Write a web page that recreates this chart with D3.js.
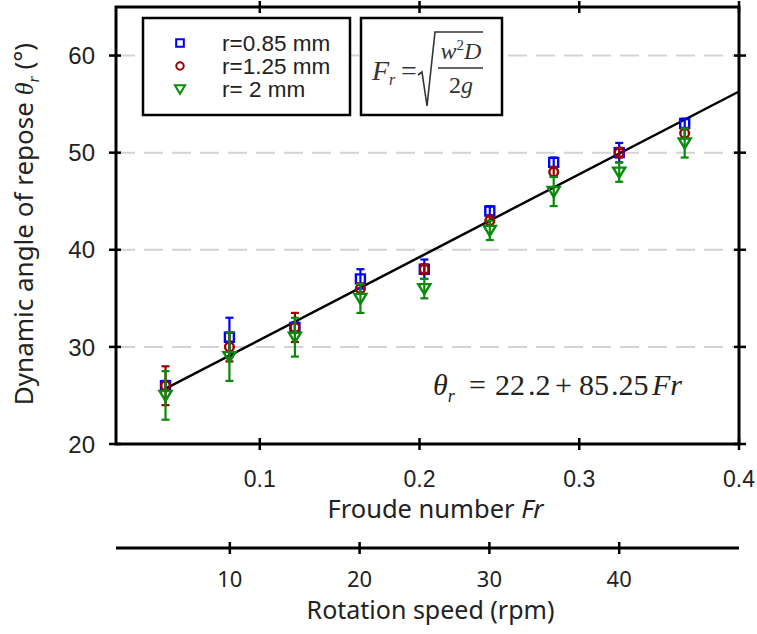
<!DOCTYPE html>
<html>
<head>
<meta charset="utf-8">
<script src="https://cdn.jsdelivr.net/npm/d3@7"></script>
<style>
  body { margin: 0; background: #fff; }
  svg { display: block; }
</style>
</head>
<body>
<svg width="757" height="634"></svg>
<script>
// ---------------- data ----------------
var rpm = [5, 10, 15, 20, 25, 30, 35, 40, 45];
var froude = [0.041, 0.081, 0.122, 0.163, 0.203, 0.244, 0.284, 0.325, 0.366];

var r085 = [26, 31, 32, 37, 38, 44, 49, 50, 53];
var r085Err = [0.5, 2, 0.5, 1, 1, 0.5, 0.5, 1, 0.5];
var r125 = [26, 30, 32, 36, 38, 43, 48, 50, 52];
var r125Err = [2, 1.5, 1.5, 0.5, 0.5, 0.5, 0.5, 0.5, 0.5];
var r2 = [25, 29, 31, 35, 36, 42, 46, 48, 51];
var r2Err = [2.5, 2.5, 2, 1.5, 1, 1, 1.5, 1, 1.5];

var seriesNames = ["r=0.85 mm", "r=1.25 mm", "r= 2 mm"];
var fitLine = [[0.041, 22.2 + 85.25 * 0.041], [0.4, 22.2 + 85.25 * 0.4]];

var yTicks = [20, 30, 40, 50, 60];
var frTicks = [0.1, 0.2, 0.3, 0.4];
var rpmTicks = [10, 20, 30, 40];

// ---------------- layout ----------------
var svg = d3.select("svg");
var margins = { top: 7, left: 116 };
var width = 623, height = 437;
var sans = "Liberation Sans, Arial, sans-serif";
var gothic = "Noto Sans, sans-serif";
var serif = "Liberation Serif, Times New Roman, serif";

var xScale = d3.scaleLinear().domain([0.01, 0.4]).range([0, width]);
var yScale = d3.scaleLinear().domain([20, 65]).range([height, 0]);
// rotation speed axis: Fr = 0.008125 * rpm
var rpmScale = d3.scaleLinear().domain([0.01 / 0.008125, 0.4 / 0.008125]).range([0, width]);

var plot = svg.append("g")
  .attr("transform", "translate(" + margins.left + "," + margins.top + ")");

// grid lines
plot.selectAll("line.grid")
  .data([30, 40, 50, 60])
  .enter()
  .append("line")
  .attr("x1", 0).attr("x2", width)
  .attr("y1", function(d) { return yScale(d); })
  .attr("y2", function(d) { return yScale(d); })
  .attr("stroke", "#d3d3d3")
  .attr("stroke-width", 2)
  .attr("stroke-dasharray", "19,9");

// frame
plot.append("rect")
  .attr("x", 0).attr("y", 0)
  .attr("width", width).attr("height", height)
  .attr("fill", "none")
  .attr("stroke", "#000")
  .attr("stroke-width", 3);

// ticks crossing the frame on all sides
function tickStyle(sel) {
  sel.attr("stroke", "#000").attr("stroke-width", 2.5);
}
plot.selectAll("line.ytl").data(yTicks).enter().append("line")
  .attr("x1", -7).attr("x2", 5)
  .attr("y1", function(d) { return yScale(d); })
  .attr("y2", function(d) { return yScale(d); })
  .call(tickStyle);
plot.selectAll("line.ytr").data(yTicks).enter().append("line")
  .attr("x1", width - 5).attr("x2", width + 7)
  .attr("y1", function(d) { return yScale(d); })
  .attr("y2", function(d) { return yScale(d); })
  .call(tickStyle);
plot.selectAll("line.xtb").data(frTicks).enter().append("line")
  .attr("x1", function(d) { return xScale(d); })
  .attr("x2", function(d) { return xScale(d); })
  .attr("y1", height - 6).attr("y2", height + 6)
  .call(tickStyle);
plot.selectAll("line.xtt").data(frTicks).enter().append("line")
  .attr("x1", function(d) { return xScale(d); })
  .attr("x2", function(d) { return xScale(d); })
  .attr("y1", -6).attr("y2", 6)
  .call(tickStyle);

// tick labels
plot.selectAll("text.yl").data(yTicks).enter().append("text")
  .attr("x", -21)
  .attr("y", function(d) { return yScale(d); })
  .attr("dy", "0.36em")
  .attr("text-anchor", "end")
  .attr("font-family", sans)
  .attr("font-size", 24)
  .attr("fill", "#222")
  .text(function(d) { return d; });

plot.selectAll("text.xl").data(frTicks).enter().append("text")
  .attr("x", function(d) { return xScale(d); })
  .attr("y", height + 43)
  .attr("text-anchor", "middle")
  .attr("font-family", sans)
  .attr("font-size", 23)
  .attr("fill", "#222")
  .text(function(d) { return d3.format(".1f")(d); });

// x title
var xt = plot.append("text")
  .attr("x", width / 2 + 8)
  .attr("y", height + 74)
  .attr("text-anchor", "middle")
  .attr("font-family", gothic)
  .attr("font-size", 25.5)
  .attr("fill", "#222");
xt.append("tspan").text("Froude number ");
xt.append("tspan").attr("font-style", "italic").text("Fr");

// y title
var yt = svg.append("text")
  .attr("transform", "translate(33,224) rotate(-90)")
  .attr("text-anchor", "middle")
  .attr("font-family", gothic)
  .attr("font-size", 26)
  .attr("fill", "#222");
yt.append("tspan").text("Dynamic angle of repose ");
yt.append("tspan").attr("font-family", serif).attr("font-style", "italic").text("\u03B8");
yt.append("tspan").attr("font-family", serif).attr("font-style", "italic")
  .attr("font-size", 16).attr("dy", 6).text("r");
yt.append("tspan").attr("dy", -6).text(" (\u00B0)");

// second axis: rotation speed
var rpmAxis = svg.append("g")
  .attr("transform", "translate(" + margins.left + ",548)");
rpmAxis.append("line")
  .attr("x1", 0).attr("x2", width)
  .attr("stroke", "#000").attr("stroke-width", 3);
rpmAxis.selectAll("line.t").data(rpmTicks).enter().append("line")
  .attr("x1", function(d) { return rpmScale(d); })
  .attr("x2", function(d) { return rpmScale(d); })
  .attr("y1", -6).attr("y2", 6)
  .call(tickStyle);
rpmAxis.selectAll("text").data(rpmTicks).enter().append("text")
  .attr("x", function(d) { return rpmScale(d); })
  .attr("y", 39)
  .attr("text-anchor", "middle")
  .attr("font-family", gothic)
  .attr("font-size", 22)
  .attr("fill", "#222")
  .text(function(d) { return d; });
rpmAxis.append("text")
  .attr("x", width / 2 + 3)
  .attr("y", 71)
  .attr("text-anchor", "middle")
  .attr("font-family", gothic)
  .attr("font-size", 25)
  .attr("fill", "#222")
  .text("Rotation speed (rpm)");

// fit line
plot.append("path")
  .datum(fitLine)
  .attr("d", d3.line()
    .x(function(d) { return xScale(d[0]); })
    .y(function(d) { return yScale(d[1]); }))
  .attr("stroke", "#000")
  .attr("stroke-width", 2.5)
  .attr("fill", "none");

// ---------------- series ----------------
var colors = ["#0000ff", "#9b0000", "#0a8a0a"];
var series = [
  { vals: r085, err: r085Err },
  { vals: r125, err: r125Err },
  { vals: r2, err: r2Err }
];

function markerPath(k) {
  if (k == 0) { return "M-4.5,-4.5H4.5V4.5H-4.5Z"; }
  else if (k == 1) { return d3.symbol(d3.symbolCircle, 60)(); }
  else { return "M-6,-4.5L6,-4.5L0,5.5Z"; }
}

series.forEach(function(s, k) {
  var pts = froude.map(function(f, i) {
    return { fr: f, v: s.vals[i], e: s.err[i] };
  });
  var g = plot.append("g");
  var bars = g.selectAll("g.err").data(pts).enter().append("g")
    .attr("stroke", colors[k])
    .attr("stroke-width", 2.2);
  bars.append("line")
    .attr("x1", function(d) { return xScale(d.fr); })
    .attr("x2", function(d) { return xScale(d.fr); })
    .attr("y1", function(d) { return yScale(d.v - d.e); })
    .attr("y2", function(d) { return yScale(d.v + d.e); });
  bars.append("line")
    .attr("x1", function(d) { return xScale(d.fr) - 4; })
    .attr("x2", function(d) { return xScale(d.fr) + 4; })
    .attr("y1", function(d) { return yScale(d.v + d.e); })
    .attr("y2", function(d) { return yScale(d.v + d.e); });
  bars.append("line")
    .attr("x1", function(d) { return xScale(d.fr) - 4; })
    .attr("x2", function(d) { return xScale(d.fr) + 4; })
    .attr("y1", function(d) { return yScale(d.v - d.e); })
    .attr("y2", function(d) { return yScale(d.v - d.e); });
  g.selectAll("path").data(pts).enter().append("path")
    .attr("d", markerPath(k))
    .attr("transform", function(d) {
      return "translate(" + xScale(d.fr) + "," + yScale(d.v) + ")";
    })
    .attr("fill", "none")
    .attr("stroke", colors[k])
    .attr("stroke-width", 2.4);
});

// ---------------- legend ----------------
var legend = svg.append("g").attr("transform", "translate(143,18)");
legend.append("rect")
  .attr("width", 207).attr("height", 97)
  .attr("fill", "#fff").attr("stroke", "#000").attr("stroke-width", 2.5);
var items = legend.selectAll("g.item").data(seriesNames).enter().append("g")
  .attr("transform", function(d, i) { return "translate(37," + (25 + i * 23) + ")"; });
items.append("path")
  .attr("d", function(d, i) { return markerPath(i); })
  .attr("transform", "scale(0.85)")
  .attr("fill", "none")
  .attr("stroke", function(d, i) { return colors[i]; })
  .attr("stroke-width", 2.4);
items.append("text")
  .attr("x", 42)
  .attr("dy", "0.36em")
  .attr("font-family", sans)
  .attr("font-size", 22.5)
  .attr("fill", "#222")
  .text(function(d) { return d; });

// formula box
var fbox = svg.append("g").attr("transform", "translate(361,18)");
fbox.append("rect")
  .attr("width", 141).attr("height", 97)
  .attr("fill", "#fff").attr("stroke", "#000").attr("stroke-width", 2.5);
var ft = fbox.append("text")
  .attr("x", 11).attr("y", 62)
  .attr("font-family", serif).attr("font-size", 28).attr("fill", "#333");
ft.append("tspan").attr("font-style", "italic").text("F");
ft.append("tspan").attr("font-style", "italic").attr("font-size", 16).attr("dy", 5).text("r");
ft.append("tspan").attr("dy", -5).attr("x", 40).text("=");
fbox.append("path")
  .attr("d", "M57,57 L61,54 L66,88 L74,14 L122,14")
  .attr("fill", "none").attr("stroke", "#333").attr("stroke-width", 1.6);
fbox.append("line")
  .attr("x1", 77).attr("x2", 122).attr("y1", 50).attr("y2", 50)
  .attr("stroke", "#333").attr("stroke-width", 1.4);
var num = fbox.append("text")
  .attr("x", 100).attr("y", 41).attr("text-anchor", "middle")
  .attr("font-family", serif).attr("font-size", 24).attr("fill", "#333")
  .attr("font-style", "italic");
num.append("tspan").text("w");
num.append("tspan").attr("font-style", "normal").attr("font-size", 15).attr("dy", -9).text("2");
num.append("tspan").attr("dy", 9).text("D");
var den = fbox.append("text")
  .attr("x", 100).attr("y", 75).attr("text-anchor", "middle")
  .attr("font-family", serif).attr("font-size", 24).attr("fill", "#333");
den.append("tspan").text("2");
den.append("tspan").attr("font-style", "italic").text("g");

// fit equation, spaced like the equation editor output
var eq = plot.append("text")
  .attr("y", 388)
  .attr("font-family", serif).attr("font-size", 30).attr("fill", "#222");
eq.append("tspan").attr("x", 317).attr("font-style", "italic").text("\u03B8");
eq.append("tspan").attr("font-style", "italic").attr("font-size", 18).attr("dy", 7).text("r");
eq.append("tspan").attr("x", 353).attr("dy", -7).text("=");
eq.append("tspan").attr("x", 379).text("22");
eq.append("tspan").attr("x", 412).text(".2");
eq.append("tspan").attr("x", 439).text("+");
eq.append("tspan").attr("x", 463).text("85");
eq.append("tspan").attr("x", 495).text(".25");
eq.append("tspan").attr("x", 536).attr("font-style", "italic").text("Fr");
</script>
</body>
</html>
